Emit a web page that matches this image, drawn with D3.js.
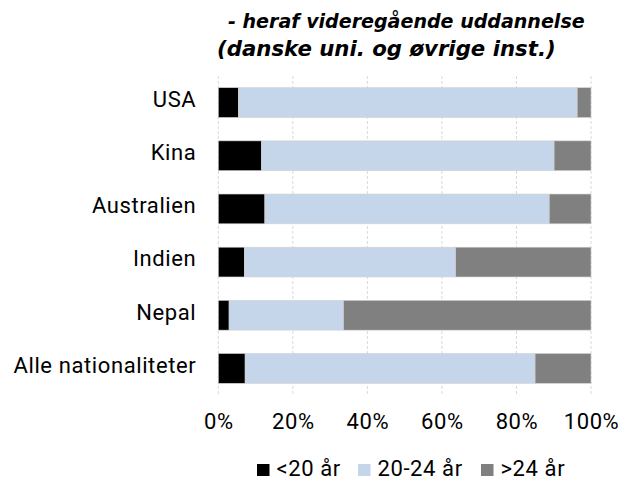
<!DOCTYPE html>
<html>
<head>
<meta charset="utf-8">
<script src="https://cdn.jsdelivr.net/npm/d3@7"></script>
<style>
  html, body { margin: 0; padding: 0; background: #fff; }
  svg { display: block; font-family: "Roboto", "DejaVu Sans", sans-serif; }
</style>
</head>
<body>
<svg id="chart" width="632" height="482"></svg>
<script>
const categories = ["USA", "Kina", "Australien", "Indien", "Nepal", "Alle nationaliteter"];
const seriesNames = ["<20 år", "20-24 år", ">24 år"];
const under20 = [5.4, 11.6, 12.5, 7.0, 2.9, 7.2];
const age20to24 = [90.9, 78.5, 76.3, 56.7, 30.7, 77.8];
const over24 = [3.7, 9.9, 11.2, 36.3, 66.4, 15.0];
const tickValues = [0, 20, 40, 60, 80, 100];
const titleLines = ["- heraf videregående uddannelse", "(danske uni. og øvrige inst.)"];
const colors = ["#000000", "#c5d5ea", "#808080"];

const svg = d3.select("#chart");
const plotL = 218.3, plotR = 591, plotT = 76, plotB = 395;
const labelFont = 22, labelSpacing = 0.6;

const x = d3.scaleLinear().domain([0, 100]).range([plotL, plotR]);
const y = d3.scaleBand().domain(categories).range([plotT, plotB]).paddingInner(0.44).paddingOuter(0.22);

// gridlines
svg.append("g").selectAll("line").data(tickValues).join("line")
  .attr("x1", d => x(d)).attr("x2", d => x(d))
  .attr("y1", plotT).attr("y2", plotB)
  .attr("stroke", "#d9d9d9").attr("stroke-width", 1)
  .attr("stroke-dasharray", "3,2");

// stacked data
const rows = categories.map((c, i) => ({ cat: c, v: [under20[i], age20to24[i], over24[i]] }));
const stack = d3.stack().keys([0, 1, 2]).value((d, k) => d.v[k]);
const stacked = stack(rows);

svg.append("g").selectAll("g").data(stacked).join("g")
  .attr("fill", (d, i) => colors[i])
  .selectAll("rect").data(d => d).join("rect")
  .attr("x", d => x(d[0]))
  .attr("width", d => x(d[1]) - x(d[0]))
  .attr("y", d => y(d.data.cat))
  .attr("height", y.bandwidth())
  .attr("stroke", "#d0d0d0").attr("stroke-width", 0.6);

// y axis labels
const yAxis = d3.axisLeft(y).tickSize(0).tickPadding(22);
const gy = svg.append("g").attr("transform", `translate(${plotL},0)`).call(yAxis);
gy.select(".domain").remove();
gy.selectAll("text").attr("font-size", labelFont).attr("fill", "#000")
  .attr("font-family", "Roboto").attr("letter-spacing", labelSpacing).attr("dy", "0.2em");

// x axis labels
const xAxis = d3.axisBottom(x).tickValues(tickValues).tickFormat(d => d + "%").tickSize(0).tickPadding(18.5);
const gx = svg.append("g").attr("transform", `translate(0,${plotB})`).call(xAxis);
gx.select(".domain").remove();
gx.selectAll("text").attr("font-size", labelFont).attr("fill", "#000")
  .attr("font-family", "Roboto").attr("letter-spacing", labelSpacing);

// title: size each line so it spans its measured width in the reference
const titleX = [228, 217], titleY = [28, 56], titleW = [357, 339];
titleLines.forEach((t, i) => {
  const el = svg.append("text").attr("x", titleX[i]).attr("y", titleY[i])
    .attr("font-family", "DejaVu Sans")
    .attr("font-size", 20).attr("font-weight", "bold").attr("font-style", "italic")
    .text(t);
  const w = el.node().getComputedTextLength();
  if (w > 0) el.attr("font-size", 20 * titleW[i] / w);
});

// legend
const legendX = [257, 358, 481];
const lg = svg.append("g");
seriesNames.forEach((n, i) => {
  lg.append("rect").attr("x", legendX[i]).attr("y", 464).attr("width", 12.5).attr("height", 12).attr("fill", colors[i]);
  lg.append("text").attr("x", legendX[i] + 19.5).attr("y", 476)
    .attr("font-size", labelFont).attr("letter-spacing", labelSpacing).text(n);
});
</script>
</body>
</html>
